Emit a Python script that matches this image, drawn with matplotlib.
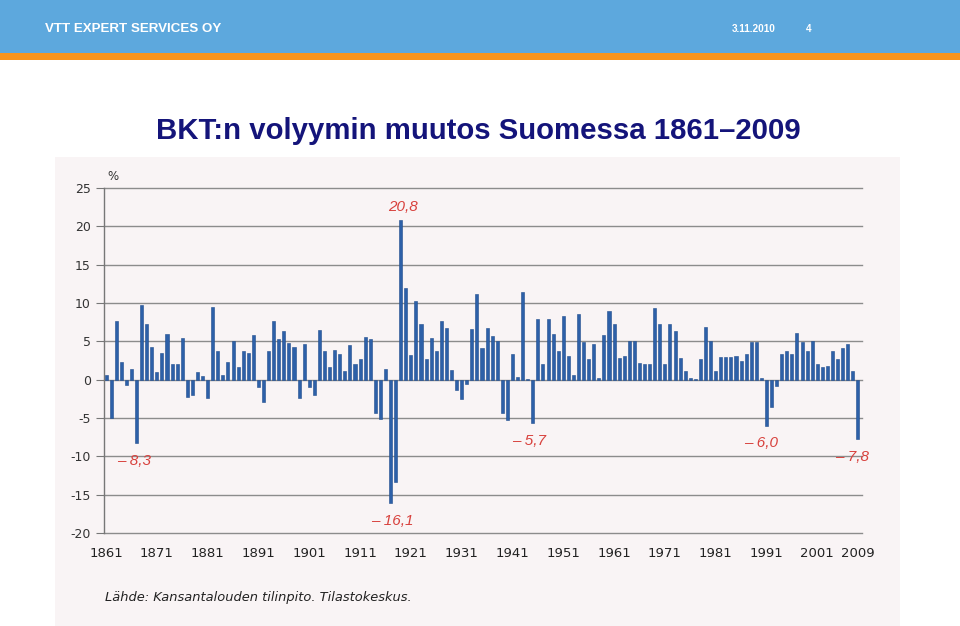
import numpy as np
import matplotlib
matplotlib.use("Agg")
import matplotlib.pyplot as plt
from matplotlib.patches import Rectangle

# BKT:n volyymin muutos, %, 1861-2009 (luettu kuvasta)
years = np.arange(1861, 2010)
growth = [
    0.6, -5.0, 7.7, 2.3, -0.7, 1.4, -8.3, 9.8, 7.2, 4.3,      # 1861-1870
    1.0, 3.5, 5.9, 2.1, 2.1, 5.5, -2.2, -2.0, 1.0, 0.5,       # 1871-1880
    -2.4, 9.5, 3.8, 0.6, 2.3, 5.0, 1.6, 3.7, 3.5, 5.8,        # 1881-1890
    -1.0, -2.9, 3.8, 7.7, 5.3, 6.4, 4.8, 4.3, -2.4, 4.6,      # 1891-1900
    -1.0, -2.0, 6.5, 3.8, 1.6, 3.9, 3.4, 1.1, 4.5, 2.1,       # 1901-1910
    2.7, 5.6, 5.3, -4.3, -5.1, 1.4, -16.1, -13.3, 20.8, 11.9, # 1911-1920
    3.2, 10.3, 7.3, 2.7, 5.4, 3.8, 7.7, 6.7, 1.2, -1.3,       # 1921-1930
    -2.5, -0.5, 6.6, 11.2, 4.1, 6.8, 5.7, 5.0, -4.3, -5.3,    # 1931-1940
    3.3, 0.3, 11.4, 0.1, -5.7, 7.9, 2.1, 7.9, 6.0, 3.7,       # 1941-1950
    8.3, 3.1, 0.6, 8.6, 4.9, 2.7, 4.6, 0.2, 5.8, 9.0,         # 1951-1960
    7.3, 2.8, 3.1, 5.0, 5.0, 2.2, 2.0, 2.1, 9.3, 7.3,         # 1961-1970
    2.0, 7.3, 6.4, 2.8, 1.1, 0.2, 0.1, 2.7, 6.9, 5.1,         # 1971-1980
    1.1, 2.9, 2.9, 2.9, 3.1, 2.4, 3.4, 4.9, 4.9, 0.2,         # 1981-1990
    -6.0, -3.5, -0.8, 3.4, 3.8, 3.4, 6.1, 4.9, 3.7, 5.0,      # 1991-2000
    2.0, 1.6, 1.8, 3.8, 2.7, 4.1, 4.6, 1.1, -7.8,             # 2001-2009
]
tick_years = [1861, 1871, 1881, 1891, 1901, 1911, 1921, 1931, 1941,
              1951, 1961, 1971, 1981, 1991, 2001, 2009]
y_ticks = [25, 20, 15, 10, 5, 0, -5, -10, -15, -20]

# korostetut arvot
notes_year = [1867, 1917, 1919, 1945, 1991, 2009]
notes_text = ["\u2013 8,3", "\u2013 16,1", "20,8", "\u2013 5,7", "\u2013 6,0", "\u2013 7,8"]
notes_dx = [-0.5, 0.4, 0.4, -0.8, -1.0, -1.2]

W, H = 960, 626
fig = plt.figure(figsize=(W / 100, H / 100), dpi=100)
fig.patch.set_facecolor("white")

# otsikkopalkki
fig.add_artist(Rectangle((0, 1 - 53 / H), 1, 53 / H, transform=fig.transFigure,
                         facecolor="#5da8dd", edgecolor="none", zorder=-2))
fig.add_artist(Rectangle((0, 1 - 60 / H), 1, 7 / H, transform=fig.transFigure,
                         facecolor="#f7941d", edgecolor="none", zorder=-2))
fig.text(45 / W, 1 - 28.5 / H, "VTT EXPERT SERVICES OY", color="white",
         fontsize=9.6, fontweight="bold", family="Liberation Sans", va="center")
fig.text(732 / W, 1 - 29 / H, "3.11.2010", color="white",
         fontsize=7.2, fontweight="bold", family="Liberation Sans", va="center")
fig.text(806 / W, 1 - 29 / H, "4", color="white",
         fontsize=7.2, fontweight="bold", family="Liberation Sans", va="center")

fig.text(478 / W, 1 - 131 / H, "BKT:n volyymin muutos Suomessa 1861\u20132009",
         color="#14147a", fontsize=21.2, fontweight="bold", family="Liberation Sans",
         ha="center", va="center")

# skannatun kuvan tausta
fig.add_artist(Rectangle((55 / W, 0), 845 / W, 1 - 157 / H, transform=fig.transFigure,
                         facecolor="#f9f4f5", edgecolor="none", zorder=-2))

ax = fig.add_axes([103.5 / W, 1 - 533 / H, 758.5 / W, 345 / H])
ax.set_facecolor("none")
ax.bar(years, growth, width=0.6, color="#2d60a8", edgecolor="#1f4d8c", linewidth=0.4,
       zorder=3)

ax.set_xlim(1860.5, 2009.8)
ax.set_ylim(-20, 25)
ax.set_yticks(y_ticks)
ax.set_yticklabels([str(v) for v in y_ticks])
ax.set_xticks(tick_years)
ax.set_xticklabels([str(v) for v in tick_years])
ax.yaxis.grid(True, color="#8c8c8c", linewidth=1.0, zorder=0)
for gl in ax.get_ygridlines():
    gl.set_clip_on(False)
ax.tick_params(axis="y", length=6, width=0.8, color="#777777", labelsize=9,
               labelcolor="#333333", pad=3)
ax.tick_params(axis="x", length=0, labelsize=9.5, labelcolor="#222222", pad=10)
for s in ["top", "right", "bottom"]:
    ax.spines[s].set_visible(False)
ax.spines["left"].set_color("#777777")
ax.spines["left"].set_linewidth(1.0)

ax.text(1861.2, 25.7, "%", fontsize=8.5, color="#333333", va="bottom", ha="left")

for yr, txt, dx in zip(notes_year, notes_text, notes_dx):
    v = growth[yr - 1861]
    if v > 0:
        yy = v + 1.7
    else:
        yy = v - 2.3
    ax.text(yr + dx, yy, txt, color="#d8413d", fontsize=11, style="italic",
            family="Liberation Sans", ha="center", va="center", zorder=4)

fig.text(105 / W, 1 - 597 / H, "L\u00e4hde: Kansantalouden tilinpito. Tilastokeskus.",
         fontsize=9.4, style="italic", color="#222222", va="center", ha="left")

fig.savefig("out.png", dpi=100)
